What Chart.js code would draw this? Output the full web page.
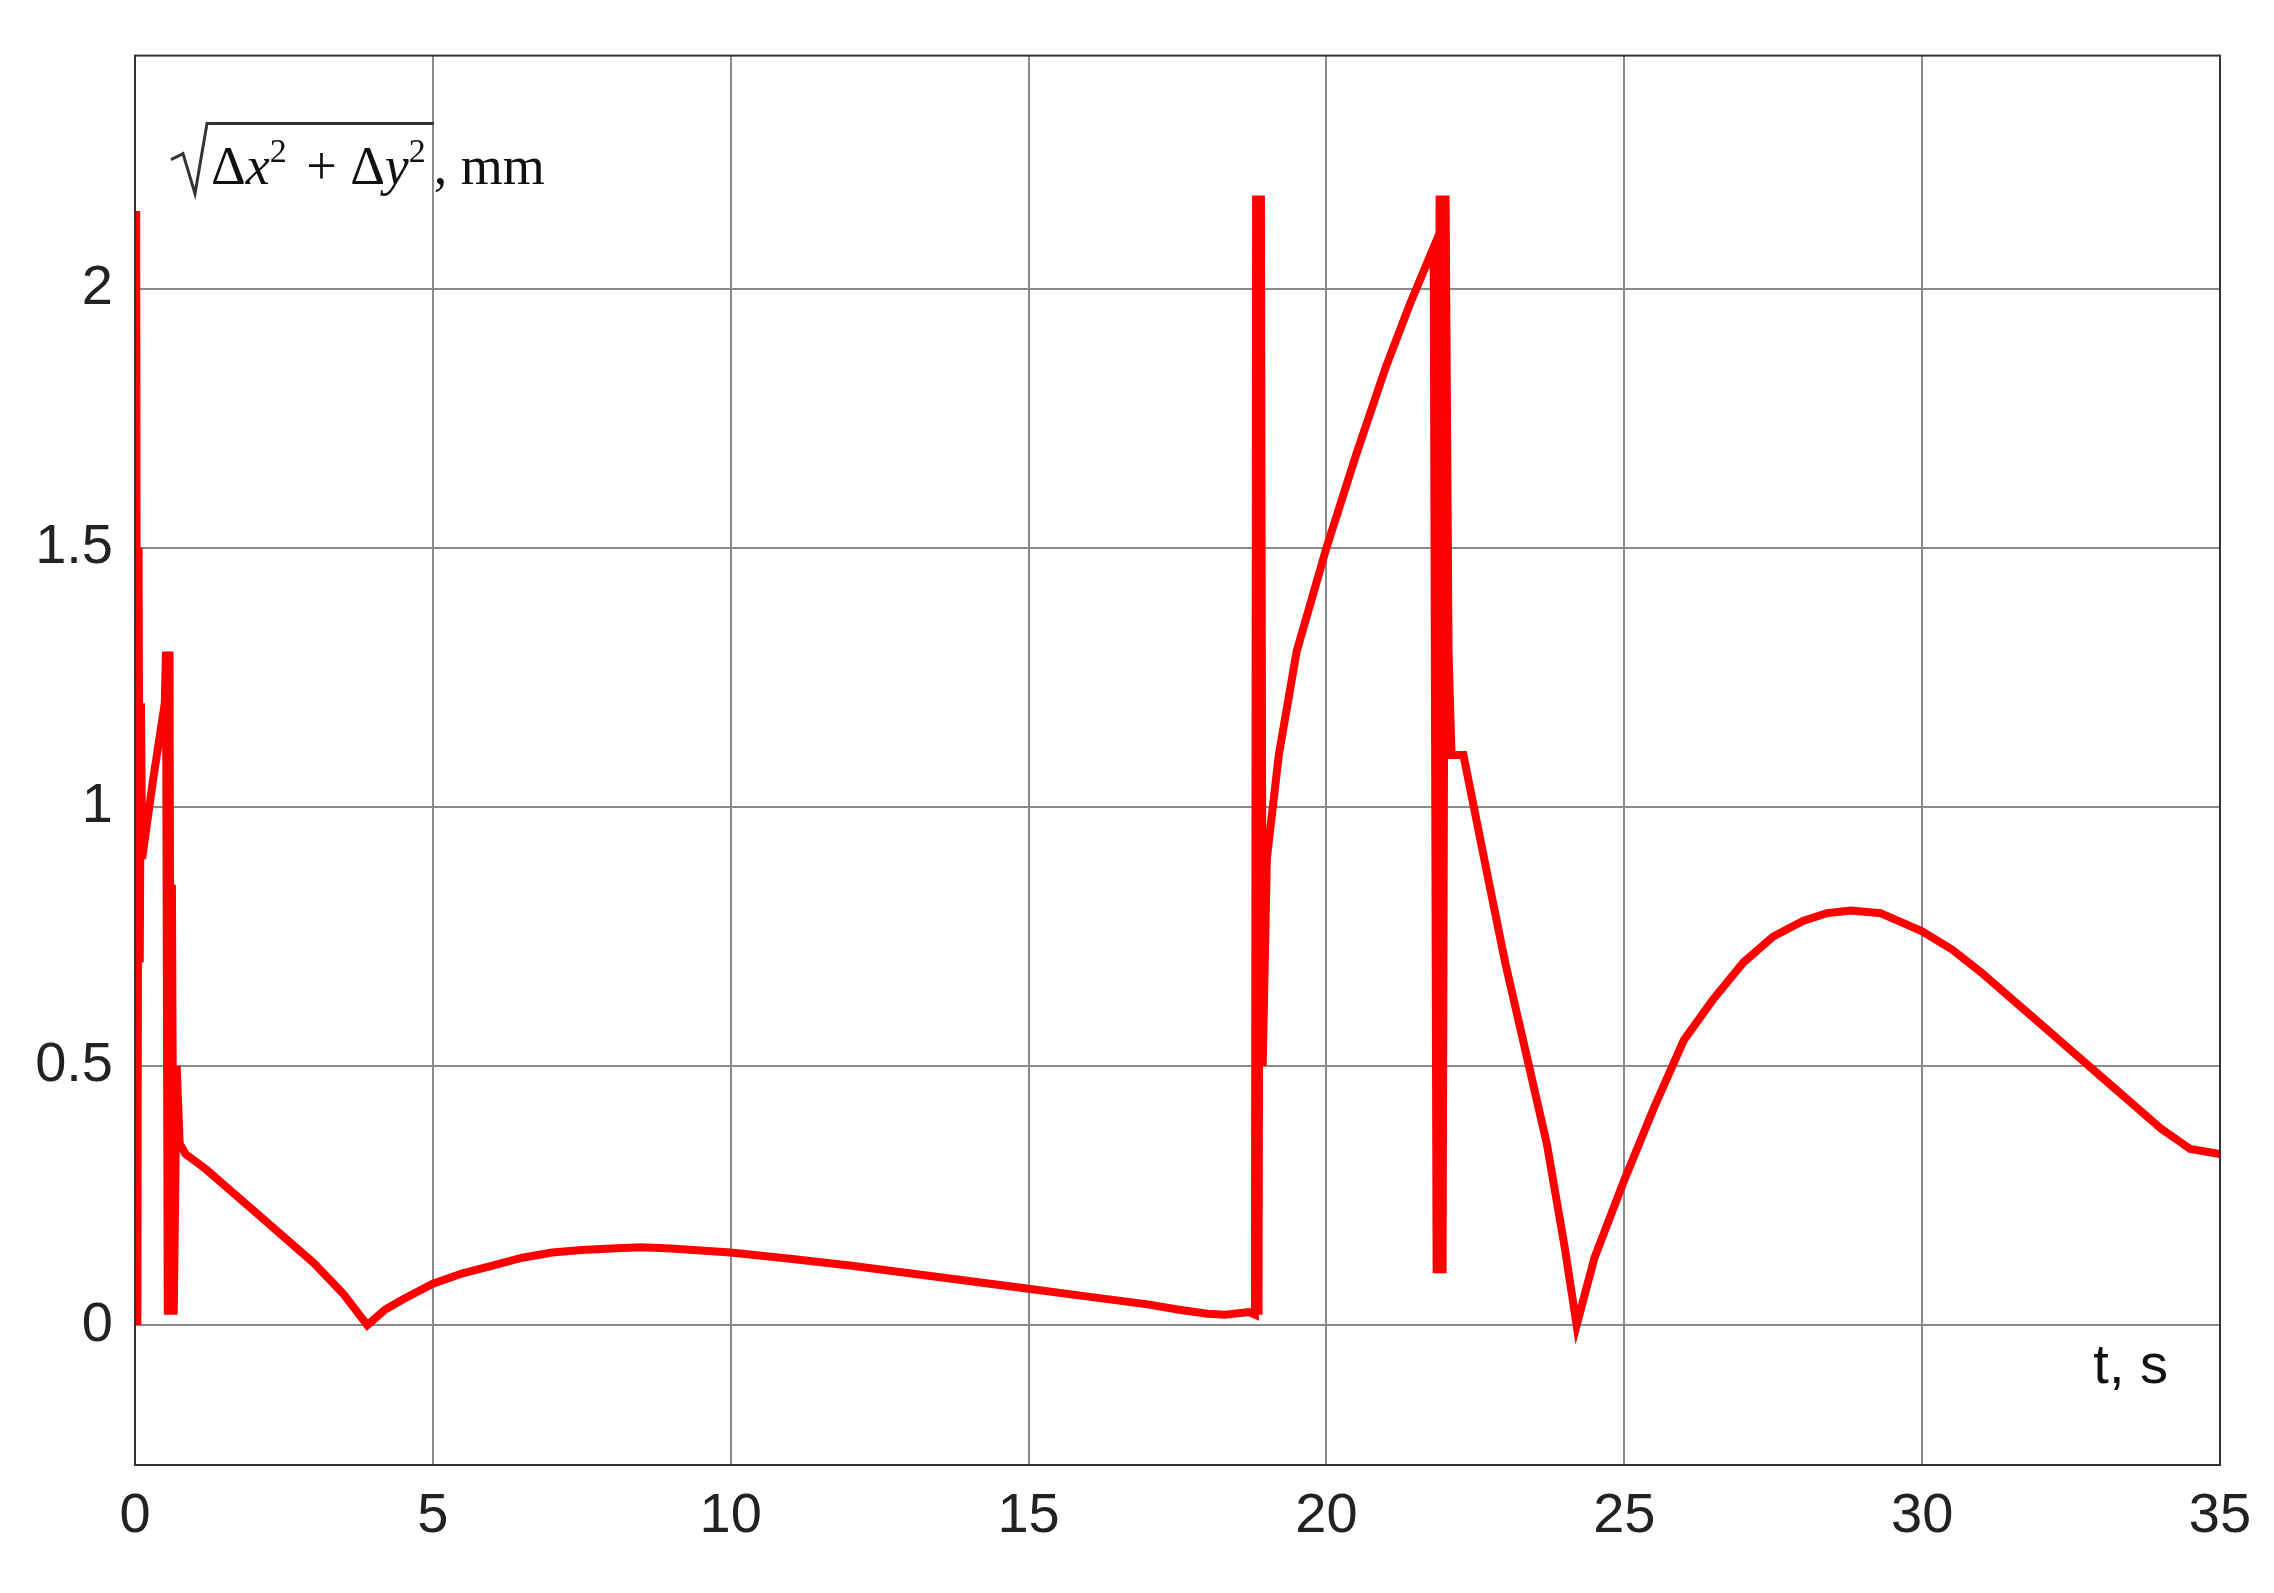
<!DOCTYPE html>
<html>
<head>
<meta charset="utf-8">
<script src="https://cdn.jsdelivr.net/npm/chart.js@4"></script>
<style>
html,body{margin:0;padding:0;background:#fff;}
#wrap{width:2274px;height:1593px;}
</style>
</head>
<body>
<div id="wrap"><canvas id="c"></canvas></div>
<script>
// time, s
const tValues = [0,0.02,0.04,0.06,0.08,0.1,0.12,0.3,0.5,0.52,0.55,0.58,0.6,0.62,0.65,0.7,0.75,0.85,1.2,1.5,2,2.5,3,3.5,3.9,4.2,4.5,5,5.5,6,6.5,7,7.5,8,8.5,9,10,11,12,13,14,15,16,17,17.5,18,18.3,18.7,18.8,18.82,18.86,18.9,18.93,19,19.2,19.5,20,20.5,21,21.4,21.8,21.85,21.9,21.95,22,22.05,22.1,22.3,22.7,23,23.4,23.7,24,24.2,24.5,25,25.5,26,26.5,27,27.5,28,28.4,28.8,29.3,30,30.5,31,31.5,32,32.5,33,33.5,34,34.5,35];
// sqrt(dx^2+dy^2), mm
const dValues = [0,2.15,0,1.5,0.7,1.2,0.9,1.05,1.2,1.3,0.02,1.3,0.05,0.85,0.02,0.5,0.35,0.33,0.3,0.27,0.22,0.17,0.12,0.06,0,0.03,0.05,0.08,0.1,0.115,0.13,0.14,0.145,0.148,0.15,0.148,0.14,0.128,0.115,0.1,0.085,0.07,0.055,0.04,0.03,0.022,0.02,0.025,0.02,2.18,0.02,2.18,0.5,0.9,1.1,1.3,1.5,1.68,1.85,1.97,2.08,0.1,2.18,0.1,2.18,1.3,1.1,1.1,0.87,0.7,0.5,0.35,0.15,0,0.13,0.28,0.42,0.55,0.63,0.7,0.75,0.78,0.795,0.8,0.795,0.76,0.725,0.68,0.63,0.58,0.53,0.48,0.43,0.38,0.34,0.33].slice(0);
const yTicks = [0,0.5,1,1.5,2];

const points = tValues.map((t,i) => ({x:t, y:dValues[i]}));

const labels = {
  id:'labels',
  afterDraw(chart){
    const c = chart.ctx, a = chart.chartArea;
    c.save();
    c.strokeStyle = '#333'; c.lineWidth = 2;
    c.strokeRect(a.left, a.top, a.right-a.left, a.bottom-a.top);
    c.fillStyle = '#111';
    c.font = '56px "Liberation Sans"';
    c.textAlign = 'right'; c.textBaseline = 'alphabetic';
    c.fillText('t, s', a.right-52, a.bottom-82);
    // formula label
    c.textAlign = 'left';
    const x0 = a.left+36, yb = a.top+128;
    let x = x0+40;
    const F = '"Liberation Serif"';
    const parts = [['Δ','54px '+F,0],['x','italic 54px '+F,0],['2','34px '+F,-22],[' + Δ','54px '+F,0],['y','italic 54px '+F,0],['2','34px '+F,-22]];
    for (const [s,f,dy] of parts){ c.font=f; c.fillText(s,x,yb+dy); x += c.measureText(s).width + (dy?6:0); }
    const xe = x+2;
    c.lineWidth = 3; c.beginPath();
    c.moveTo(x0, yb-24); c.lineTo(x0+12, yb-30); c.lineTo(x0+24, yb+10); c.lineTo(x0+36, yb-60); c.lineTo(xe, yb-60);
    c.stroke();
    c.font = '54px '+F;
    c.fillText(', mm', xe, yb);
    c.restore();
  }
};

new Chart(document.getElementById('c'), {
  type:'line',
  data:{datasets:[{data:points, borderColor:'#ff0000', borderWidth:8, pointRadius:0, tension:0, fill:false}]},
  options:{
    responsive:true, maintainAspectRatio:false, animation:false,
    layout:{padding:{top:6,right:54,left:0,bottom:0}},
    plugins:{legend:{display:false}, tooltip:{enabled:false}},
    scales:{
      x:{type:'linear', min:0, max:35,
        ticks:{stepSize:5, color:'#222', padding:18, font:{family:'Liberation Sans', size:56}},
        grid:{color:'#8a8a8a', lineWidth:2, drawTicks:false}, border:{display:false},
        afterFit(s){ s.height = 128; }},
      y:{type:'linear', min:-0.27, max:2.45,
        afterBuildTicks(s){ s.ticks = yTicks.map(v=>({value:v})); },
        ticks:{color:'#222', padding:22, font:{family:'Liberation Sans', size:56}, callback:v=>String(v)},
        grid:{color:'#8a8a8a', lineWidth:2, drawTicks:false}, border:{display:false},
        afterFit(s){ s.width = 135; }}
    }
  },
  plugins:[labels]
});
</script>
</body>
</html>
